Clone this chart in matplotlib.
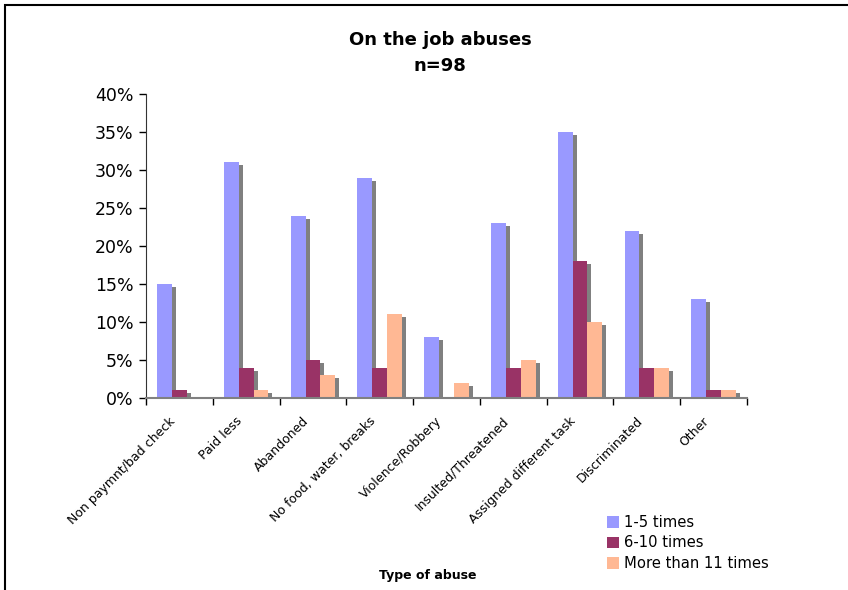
import numpy as np
import matplotlib
matplotlib.use("Agg")
import matplotlib.pyplot as plt
from matplotlib.patches import Patch, Rectangle
from matplotlib.transforms import ScaledTranslation

# survey results, percent of respondents (n=98)
categories = ["Non paymnt/bad check", "Paid less", "Abandoned", "No food, water, breaks",
              "Violence/Robbery", "Insulted/Threatened", "Assigned different task",
              "Discriminated", "Other"]
times_1_5 = [15, 31, 24, 29, 8, 23, 35, 22, 13]
times_6_10 = [1, 4, 5, 4, 0, 4, 18, 4, 1]
times_11_plus = [0, 1, 3, 11, 2, 5, 10, 4, 1]
series_names = ["1-5 times", "6-10 times", "More than 11 times"]
colors = ["#9999FF", "#993366", "#FFB894"]

plt.rcParams['font.family'] = ['DejaVu Sans']

W, H = 848, 590
fig = plt.figure(figsize=(W / 100, H / 100), dpi=100)
ax = fig.add_axes([146 / W, 1 - 398 / H, (747 - 146) / W, (398 - 94) / H])

x = np.arange(len(categories))
bw = 1 / 4.5          # excel style: gap width 150%
dx_sh = 4 / (601 / 9)  # shadow offset, 4 px right
dy_sh = 3 / 7.6        # and 3 px down

all_series = [times_1_5, times_6_10, times_11_plus]
for i, (vals, c) in enumerate(zip(all_series, colors)):
    pos = x + (i - 1) * bw + 0.5
    vals = np.array(vals, dtype=float)
    sh = np.clip(vals - dy_sh, 0, None)
    ax.bar(pos + dx_sh, sh, width=bw, color="#808080", zorder=1, linewidth=0)
    ax.bar(pos, vals, width=bw, color=c, zorder=2, linewidth=0)

ax.set_xlim(0, len(categories))
ax.set_ylim(0, 40)
ax.set_yticks(np.arange(0, 41, 5))
ax.set_yticklabels([f"{v}%" for v in range(0, 41, 5)], fontsize=12.5)
ax.set_xticks(np.arange(0, len(categories) + 1))
ax.set_xticklabels([])
ax.set_xticks(x + 0.5, minor=True)
ax.set_xticklabels(categories, minor=True, rotation=45, ha="right", va="top",
                   rotation_mode="anchor", fontsize=9)
ax.tick_params(axis="x", which="minor", length=0, pad=12)
ax.tick_params(axis="x", which="major", length=5, width=1, direction="out")
ax.tick_params(axis="y", length=5, width=1, direction="out", pad=4)

# nudge the slanted category labels a little to the left
shift = ScaledTranslation(-11 / 100, 0, fig.dpi_scale_trans)
for lab in ax.get_xticklabels(minor=True):
    lab.set_transform(lab.get_transform() + shift)

for s in ["top", "right"]:
    ax.spines[s].set_visible(False)
ax.spines["left"].set_color("#333333")
ax.spines["bottom"].set_color("#808080")
ax.spines["bottom"].set_linewidth(1.5)

fig.text(440 / W, 1 - 40 / H, "On the job abuses", ha="center", va="center",
         fontsize=13, fontweight="bold")
fig.text(440 / W, 1 - 66 / H, "n=98", ha="center", va="center",
         fontsize=13, fontweight="bold")
fig.text(428 / W, 1 - 575 / H, "Type of abuse", ha="center", va="center",
         fontsize=9, fontweight="bold")

handles = [Patch(facecolor=c, edgecolor="none") for c in colors]
fig.legend(handles, series_names, loc="upper left",
           bbox_to_anchor=(601 / W, 1 - 509 / H), frameon=False, fontsize=10.6,
           handlelength=0.85, handleheight=0.85, handletextpad=0.3,
           labelspacing=0.38, borderaxespad=0)

# outer chart frame, runs off the right and bottom edge
fig.add_artist(Rectangle((5 / W, -0.1), 1.2, 1 - 5 / H + 0.1, transform=fig.transFigure,
                         fill=False, edgecolor="black", linewidth=1.5))

fig.savefig("out.png", dpi=100)
